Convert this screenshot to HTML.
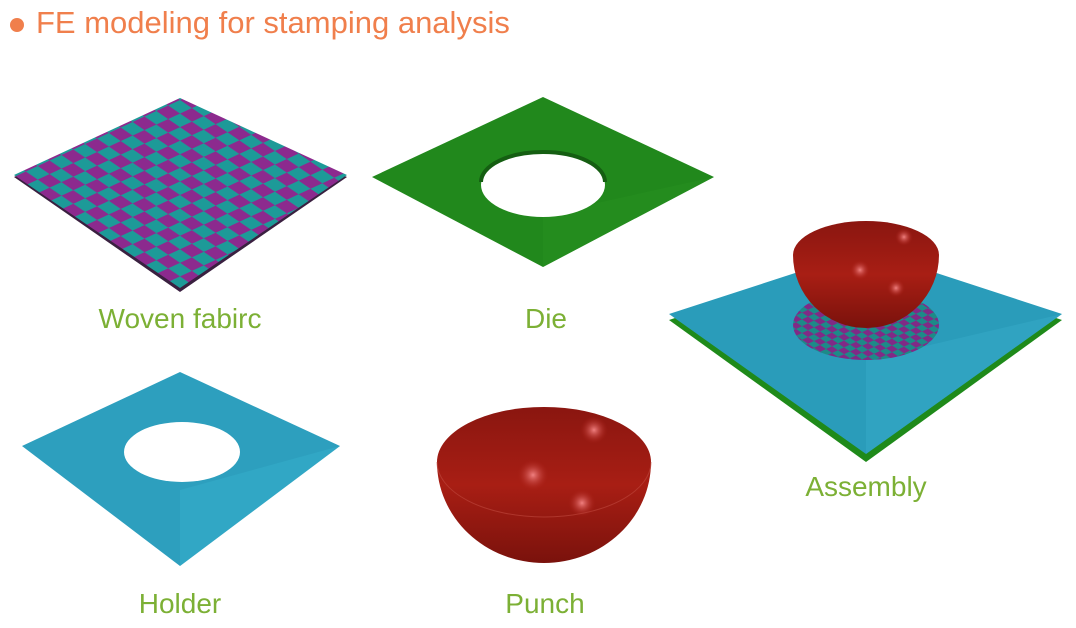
<!DOCTYPE html>
<html><head><meta charset="utf-8"><style>
html,body{margin:0;padding:0;background:#fff;}
body{width:1076px;height:628px;overflow:hidden;position:relative;font-family:"Liberation Sans",sans-serif;}
.t{position:absolute;color:#7cb035;font-size:28px;white-space:nowrap;transform:translateX(-50%);}
</style></head><body>
<svg width="1076" height="628" style="position:absolute;left:0;top:0">
<defs>
<pattern id="chk" width="2" height="2" patternUnits="userSpaceOnUse" patternTransform="matrix(11.86,-5.5,11.86,8.07,14,177)">
<rect width="2" height="2" fill="#1d9a98"/>
<rect width="1" height="1" fill="#8c2a8e"/>
<rect x="1" y="1" width="1" height="1" fill="#8c2a8e"/>
</pattern>
<pattern id="chk2" width="2" height="2" patternUnits="userSpaceOnUse" patternTransform="matrix(6,-2.8,6,4,790,325)">
<rect width="2" height="2" fill="#1d8a88"/>
<rect width="1" height="1" fill="#802a86"/>
<rect x="1" y="1" width="1" height="1" fill="#802a86"/>
</pattern>
<radialGradient id="hl" cx="0.5" cy="0.5" r="0.5">
<stop offset="0" stop-color="#f08080"/><stop offset="1" stop-color="#a81c14" stop-opacity="0"/>
</radialGradient>
<linearGradient id="bowl" x1="0" y1="0" x2="0" y2="1">
<stop offset="0" stop-color="#8a1610"/><stop offset="0.5" stop-color="#a81e14"/><stop offset="1" stop-color="#7a120c"/>
</linearGradient>
</defs>
<circle cx="17" cy="25" r="7" fill="#f07f4c"/>
<text x="36" y="33" font-size="31" fill="#f07f4c" font-family="Liberation Sans, sans-serif">FE modeling for stamping analysis</text>

<!-- woven fabric -->
<polygon points="14,177 180,100 347,177 180,292" fill="#3a2040"/>
<polygon points="14,175 180,98 347,175 180,288" fill="url(#chk)"/>

<!-- die -->
<polygon points="372,177 543,97 714,177 543,267" fill="#21881c"/>
<path d="M543,267 L714,177 L543,215 Z" fill="#279020" opacity="0.6"/>
<ellipse cx="543" cy="185" rx="62" ry="32" fill="#fff"/>
<path d="M481,182 A62,30 0 0,1 605,182" fill="none" stroke="#155e12" stroke-width="4"/>

<!-- holder -->
<polygon points="22,446 180,372 340,446 180,566" fill="#2d9fbe"/>
<path d="M180,566 L180,490 L340,446 Z" fill="#35b0cc" opacity="0.5"/>
<ellipse cx="182" cy="452" rx="58" ry="30" fill="#fff"/>

<!-- punch -->
<path d="M437,462 A107,55 0 0,1 651,462 A107,101 0 0,1 437,462 Z" fill="url(#bowl)"/>
<path d="M437,462 A107,55 0 0,0 651,462" fill="none" stroke="#c04a40" stroke-width="1" opacity="0.6"/>
<circle cx="533" cy="475" r="16" fill="url(#hl)"/>
<circle cx="594" cy="430" r="14" fill="url(#hl)"/>
<circle cx="582" cy="503" r="14" fill="url(#hl)"/>

<!-- assembly -->
<polygon points="669,320 866,254 1062,320 866,462" fill="#1f8a1a"/>
<polygon points="669,314 866,250 1062,314 866,454" fill="#2a9cba"/>
<path d="M866,454 L866,360 L1062,314 Z" fill="#35aac8" opacity="0.5"/>
<ellipse cx="866" cy="325" rx="73" ry="35" fill="url(#chk2)"/>
<path d="M793,255 A73,34 0 0,1 939,255 A73,73 0 0,1 793,255 Z" fill="url(#bowl)"/>
<circle cx="860" cy="270" r="10" fill="url(#hl)"/>
<circle cx="904" cy="237" r="9" fill="url(#hl)"/>
<circle cx="896" cy="288" r="9" fill="url(#hl)"/>
</svg>
<div class="t" style="left:180px;top:303px">Woven fabirc</div>
<div class="t" style="left:546px;top:303px">Die</div>
<div class="t" style="left:866px;top:471px">Assembly</div>
<div class="t" style="left:180px;top:588px">Holder</div>
<div class="t" style="left:545px;top:588px">Punch</div>
</body></html>
